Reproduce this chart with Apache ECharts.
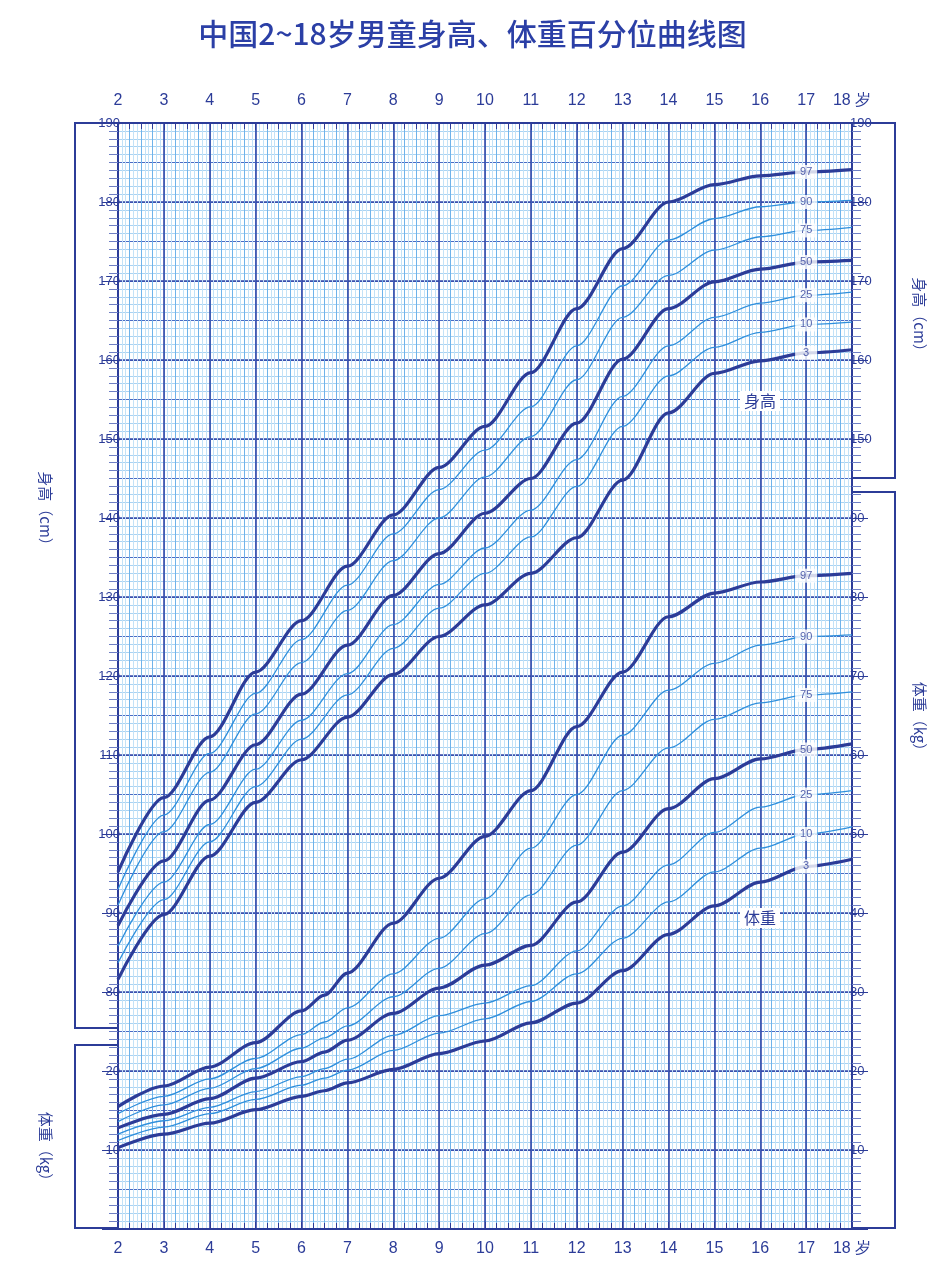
<!DOCTYPE html>
<html>
<head>
<meta charset="utf-8">
<script src="https://cdn.jsdelivr.net/npm/echarts@6/dist/echarts.min.js"></script>
<style>
html, body { margin: 0; padding: 0; background: #fff; }
#chart { width: 945px; height: 1280px; }
</style>
</head>
<body>
<div id="chart"></div>
<script>
var pct = ['3', '10', '25', '50', '75', '90', '97'];
var ages = [2, 3, 4, 5, 6, 7, 8, 9, 10, 11, 12, 13, 14, 15, 16, 17, 18];
var weightAges = [2, 3, 4, 5, 6, 6.5, 7, 8, 9, 10, 11, 12, 13, 14, 15, 16, 17, 18];

// 身高 (cm)
var h3  = [81.6, 89.8, 97.2, 104.0, 109.4, 114.8, 120.2, 125.0, 129.0, 133.0, 137.5, 144.8, 153.3, 158.3, 159.9, 160.9, 161.3];
var h10 = [83.7, 91.7, 99.0, 106.0, 112.0, 117.6, 123.5, 128.6, 133.0, 137.6, 144.0, 151.6, 158.0, 161.6, 163.5, 164.5, 164.8];
var h25 = [85.8, 93.9, 101.2, 108.2, 114.4, 120.3, 126.5, 131.6, 136.2, 141.0, 147.4, 155.4, 161.8, 165.4, 167.2, 168.2, 168.6];
var h50 = [88.4, 96.6, 104.3, 111.3, 117.7, 123.9, 130.2, 135.5, 140.6, 145.0, 152.0, 160.1, 166.5, 169.9, 171.5, 172.4, 172.6];
var h75 = [91.0, 100.3, 107.8, 115.2, 121.7, 128.3, 134.6, 140.0, 145.2, 150.3, 157.5, 165.4, 170.7, 173.9, 175.6, 176.4, 176.8];
var h90 = [93.0, 102.4, 110.2, 117.8, 124.6, 131.5, 138.0, 143.6, 148.6, 154.1, 161.8, 169.4, 175.2, 177.9, 179.4, 180.0, 180.2];
var h97 = [95.2, 104.6, 112.3, 120.5, 127.0, 133.9, 140.4, 146.4, 151.6, 158.4, 166.5, 174.1, 180.0, 182.2, 183.3, 183.8, 184.1];

// 体重 (kg)
var w3  = [10.3, 12.0, 13.4, 15.1, 16.8, 17.5, 18.5, 20.2, 22.2, 23.8, 26.1, 28.6, 32.7, 37.3, 40.9, 43.9, 45.9, 46.8];
var w10 = [11.2, 12.9, 14.6, 16.4, 18.2, 19.1, 20.1, 22.6, 24.8, 26.6, 28.8, 32.3, 36.8, 41.4, 45.2, 48.2, 50.0, 50.9];
var w25 = [12.0, 13.7, 15.4, 17.4, 19.3, 20.3, 21.5, 24.5, 27.0, 28.6, 30.8, 35.2, 40.9, 46.1, 50.2, 53.4, 55.0, 55.5];
var w50 = [12.8, 14.5, 16.5, 19.1, 21.2, 22.4, 23.9, 27.3, 30.5, 33.4, 35.9, 41.4, 47.7, 53.2, 57.0, 59.5, 60.7, 61.4];
var w75 = [13.6, 15.7, 17.8, 20.3, 22.9, 24.2, 25.7, 29.4, 33.0, 37.4, 42.3, 48.6, 55.5, 60.9, 64.5, 66.6, 67.6, 68.0];
var w90 = [14.6, 16.8, 19.0, 21.6, 24.6, 26.2, 28.0, 32.3, 36.8, 41.8, 48.2, 55.0, 62.5, 68.2, 71.6, 73.9, 75.0, 75.2];
var w97 = [15.5, 18.1, 20.5, 23.6, 27.6, 29.6, 32.4, 38.7, 44.4, 49.7, 55.5, 63.6, 70.5, 77.5, 80.5, 81.9, 82.7, 83.0];

var heightSets = [h3, h10, h25, h50, h75, h90, h97];
var weightSets = [w3, w10, w25, w50, w75, w90, w97];
var WEIGHT_OFFSET = 50; // 体重刻度与身高刻度相差 50

var dark = '#2c3c98', light = '#2f8fdc', text = '#2c3c98';
var chart = echarts.init(document.getElementById('chart'));

function gridAxis(type, interval, color, width) {
    return {
        type: 'value', min: type == 'x' ? 2 : 50, max: type == 'x' ? 18 : 190,
        interval: interval, show: true, gridIndex: 0,
        axisLine: { show: false }, axisTick: { show: false }, axisLabel: { show: false },
        splitLine: { show: true, lineStyle: { color: color, width: width, type: 'solid' } }
    };
}

var xAxes = [
    gridAxis('x', 1 / 12, '#c3e2f7', 1),
    gridAxis('x', 0.25, '#6fb3ea', 1),
    gridAxis('x', 1, '#3448a8', 1.6)
];
var yAxes = [
    gridAxis('y', 1, '#a9d3f3', 1),
    gridAxis('y', 5, '#4a6cc4', 1.2),
    gridAxis('y', 10, '#3448a8', 1.6)
];
function ageAxis(pos, margin) {
    return {
        type: 'value', min: 2, max: 18, interval: 1, position: pos, gridIndex: 0,
        axisLine: { lineStyle: { color: dark, width: 2 } },
        axisTick: { inside: true, length: 7, lineStyle: { color: dark } },
        minorTick: { show: true, splitNumber: 4, length: 6, lineStyle: { color: dark } },
        axisLabel: { color: text, fontSize: 16, margin: margin, formatter: function (v) { return v == 18 ? '18 岁' : v; } },
        splitLine: { show: false }
    };
}
xAxes.push(ageAxis('top', 14));
xAxes.push(ageAxis('bottom', 12));

function sideAxis(pos, fmt) {
    return {
        type: 'value', min: 50, max: 190, interval: 10, position: pos, gridIndex: 0,
        axisLine: { show: true, lineStyle: { color: dark, width: 2 } },
        axisTick: { length: 16, lineStyle: { color: dark } },
        minorTick: { show: true, splitNumber: 10, length: 9, lineStyle: { color: '#6f7fc4' } },
        axisLabel: { color: text, fontSize: 13, margin: -2, formatter: fmt },
        splitLine: { show: false }
    };
}
yAxes.push(sideAxis('left', function (v) {
    if (v >= 80) return v;
    if (v == 60 || v == 70) return v - WEIGHT_OFFSET;
    return '';
}));
yAxes.push(sideAxis('right', function (v) {
    if (v >= 150) return v;
    if (v >= 60 && v <= 140) return v - WEIGHT_OFFSET;
    return '';
}));

var series = [];
function addCurves(xs, sets, offset) {
    sets.forEach(function (vals, i) {
        var thick = pct[i] == '3' || pct[i] == '50' || pct[i] == '97';
        series.push({
            type: 'line', xAxisIndex: 2, yAxisIndex: 2, smooth: 0.3, smoothMonotone: 'x', symbol: 'none',
            lineStyle: { color: thick ? dark : light, width: thick ? 3.2 : 1.3 },
            data: xs.map(function (a, k) { return [a, vals[k] + offset]; }),
            z: thick ? 4 : 3
        });
        series.push({
            type: 'scatter', xAxisIndex: 2, yAxisIndex: 2, symbol: 'rect', symbolSize: [22, 14],
            itemStyle: { color: '#fff' }, z: 6, silent: true,
            label: { show: true, position: 'inside', formatter: pct[i], color: text, fontSize: 11 },
            data: [[17, vals[xs.indexOf(17)] + offset]]
        });
    });
}
addCurves(ages, heightSets, 0);
addCurves(weightAges, weightSets, WEIGHT_OFFSET);

function box(x1, y1, x2, y2) {
    return { type: 'polyline', shape: { points: [[x2, y1], [x1, y1], [x1, y2], [x2, y2]] },
        style: { stroke: dark, lineWidth: 2, fill: null }, z: 10 };
}
function vtext(x, y, s) {
    return { type: 'text', x: x, y: y, rotation: -Math.PI / 2,
        style: { text: s, fill: text, font: '15px "Noto Sans CJK SC"', align: 'center', verticalAlign: 'middle' }, z: 10 };
}
function tag(x, y, s) {
    return { type: 'text', x: x, y: y,
        style: { text: s, fill: text, font: '16px "Noto Sans CJK SC"', align: 'center', verticalAlign: 'middle',
            backgroundColor: '#fff', padding: [2, 4] }, z: 10 };
}

chart.setOption({
    animation: false,
    title: { text: '中国2~18岁男童身高、体重百分位曲线图', left: 'center', top: 14,
        textStyle: { color: '#2b3fa6', fontSize: 30, fontWeight: 500, fontFamily: 'Noto Sans CJK SC' } },
    grid: { left: 118, right: 93, top: 123, bottom: 51 },
    xAxis: xAxes,
    yAxis: yAxes,
    series: series,
    graphic: [
        box(75, 123, 118, 1028),
        box(75, 1045, 118, 1228),
        box(895, 123, 852, 478),
        box(895, 492, 852, 1228),
        vtext(46, 512, '身高（cm）'),
        vtext(46, 1150, '体重（kg）'),
        vtext(920, 318, '身高（cm）'),
        vtext(920, 720, '体重（kg）'),
        tag(760, 401, '身高'),
        tag(760, 918, '体重')
    ]
});
</script>
</body>
</html>
